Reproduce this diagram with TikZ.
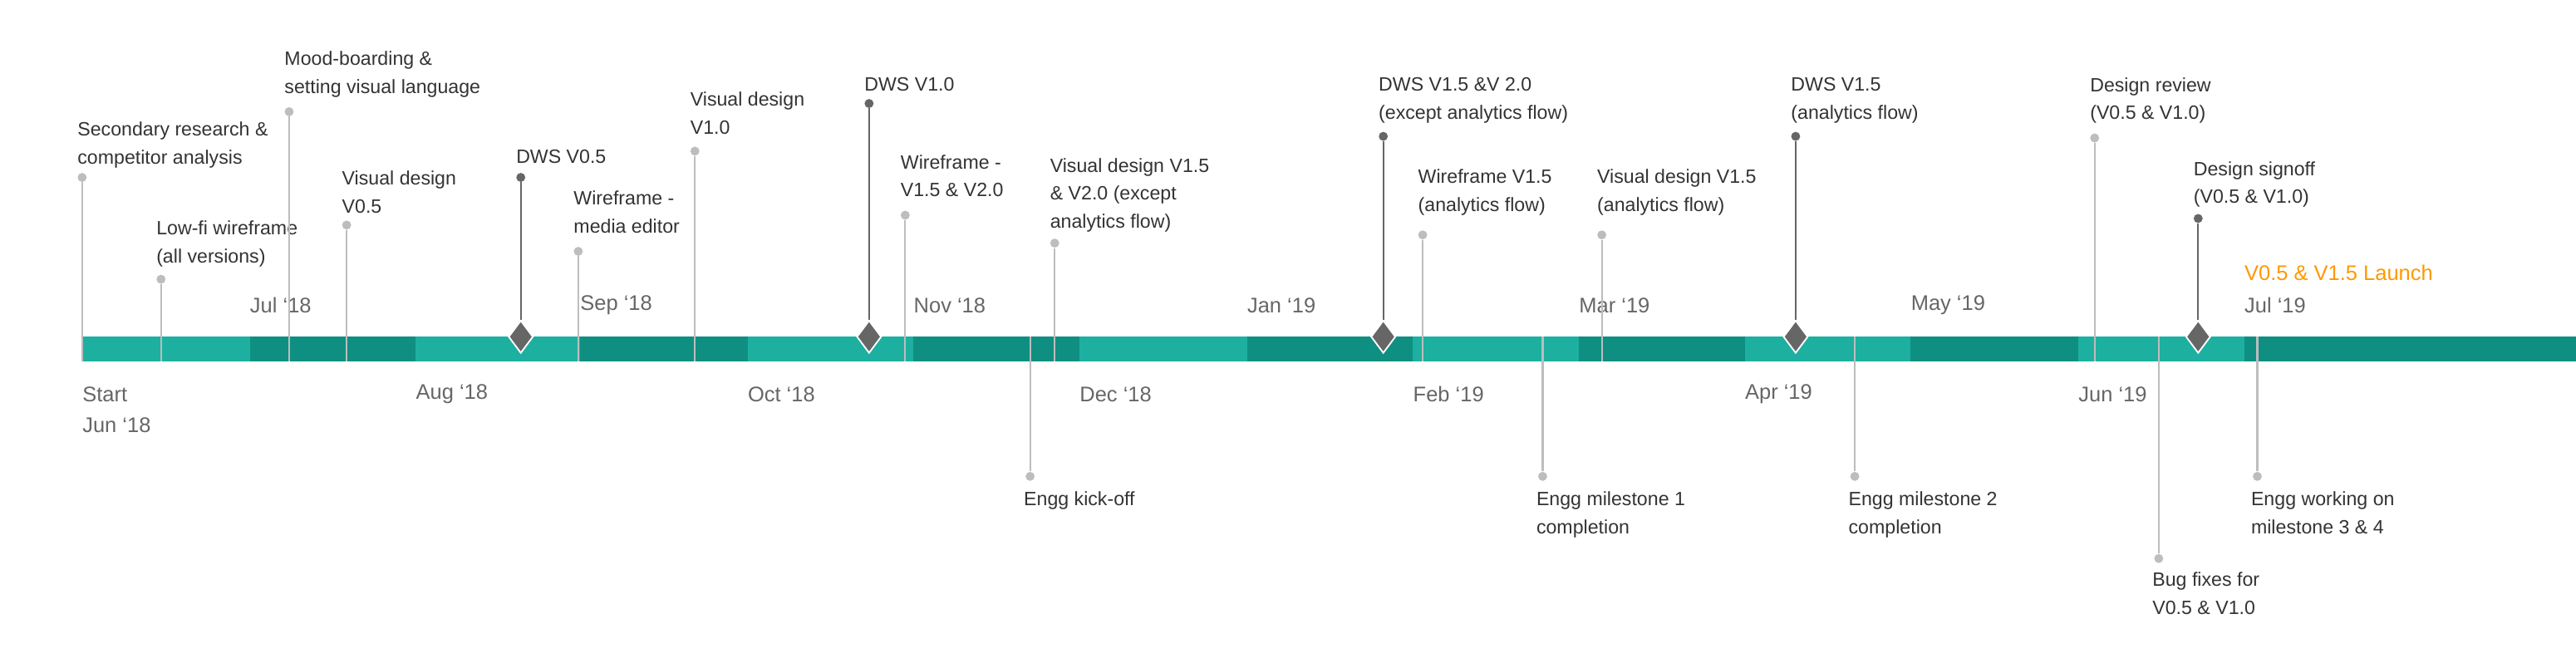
\documentclass[tikz,border=0pt]{standalone}
\usepackage{fontspec}
\setmainfont{Liberation Sans}
\usetikzlibrary{positioning,shapes.geometric}
\definecolor{barlight}{HTML}{1DB0A0}
\definecolor{bardark}{HTML}{0F8F82}
\definecolor{evtext}{HTML}{333333}
\definecolor{montext}{HTML}{666666}
\definecolor{lineg}{HTML}{BDBDBD}
\definecolor{linedk}{HTML}{666666}
\definecolor{launch}{HTML}{FF9800}
\tikzset{
  ev/.style={font=\fontsize{10}{14.6}\selectfont, text=evtext, anchor=north west, inner sep=0pt, align=left},
  mon/.style={font=\fontsize{11}{12}\selectfont, text=montext, anchor=west, inner sep=0pt},
  dotl/.style={circle, fill=lineg, inner sep=0pt, minimum size=5.5*0.03cm},
  dotd/.style={circle, fill=linedk, inner sep=0pt, minimum size=5.5*0.03cm},
  lite/.style={draw=lineg, line width=0.9pt},
  dark/.style={draw=linedk, line width=1pt},
}
\begin{document}
\begin{tikzpicture}[x=0.03cm, y=-0.03cm]
\useasboundingbox (0,0) rectangle (1568,406.6);
% bar
\foreach \xa/\xb/\col in {50/152/barlight, 152/253/bardark, 253/353/barlight, 353/455/bardark,
    455/556/barlight, 556/657/bardark, 657/759/barlight, 759/860/bardark, 860/961/barlight,
    961/1062/bardark, 1062/1163/barlight, 1163/1265/bardark, 1265/1366/barlight, 1366/1568/bardark}
  \fill[\col] (\xa,205) rectangle (\xb,220);
% months
\foreach \x/\m in {152/Jul ‘18, 353/Sep ‘18, 556/Nov ‘18, 759/Jan ‘19, 961/Mar ‘19, 1163/May ‘19, 1366/Jul ‘19}
  \node[mon] at (\x,186) {\m};
\foreach \x/\m in {50/Start, 253/Aug ‘18, 455/Oct ‘18, 657/Dec ‘18, 860/Feb ‘19, 1062/Apr ‘19, 1265/Jun ‘19}
  \node[mon] at (\x,240) {\m};
\node[mon] (jun18) at (50,259) {Jun ‘18};
\node[mon, text=launch] (launch) at (1366,166) {V0.5 \& V1.5 Launch};
% events above the bar
\foreach \nm/\x/\yd/\yt/\txt in {
    research/50/108/74/{Secondary research \&\\competitor analysis},
    lofi/98/170/134/{Low-fi wireframe\\(all versions)},
    mood/176/68/31/{Mood-boarding \&\\setting visual language},
    vdfive/211/137/104/{Visual design\\V0.5},
    wfmedia/352/153/116/{Wireframe -\\media editor},
    vdone/423/92/56/{Visual design\\V1.0},
    wfonefive/551/131/94/{Wireframe -\\V1.5 \& V2.0},
    vdonefive/642/148/96/{Visual design V1.5\\\& V2.0 (except\\analytics flow)},
    wfanalytics/866/143/103/{Wireframe V1.5\\(analytics flow)},
    vdanalytics/975/143/103/{Visual design V1.5\\(analytics flow)},
    review/1275/84/47/{Design review\\(V0.5 \& V1.0)}}{
  \node[dotl] (d\nm) at (\x,\yd) {};
  \coordinate (e\nm) at (\x,220);
  \draw[lite] (d\nm) -- (e\nm);
  \node[ev] (t\nm) at (\x-3,\yt) {\txt};
}
% milestones
\foreach \nm/\x/\yd/\yt/\txt in {
    dwsfive/317/108/91/{DWS V0.5},
    dwsone/529/63/47/{DWS V1.0},
    dwstwo/842/83/47/{DWS V1.5 \&V 2.0\\(except analytics flow)},
    dwsanalytics/1093/83/47/{DWS V1.5\\(analytics flow)},
    signoff/1338/133/98/{Design signoff\\(V0.5 \& V1.0)}}{
  \node[dotd] (d\nm) at (\x,\yd) {};
  \node[diamond, fill=linedk, draw=white, line width=0.8pt, inner sep=0pt,
        minimum width=15*0.03cm, minimum height=20*0.03cm] (m\nm) at (\x,205) {};
  \draw[dark] (d\nm) -- (m\nm.north);
  \node[ev] (t\nm) at (\x-3,\yt) {\txt};
}
% events below the bar
\foreach \nm/\x/\yd/\yt/\txt in {
    kickoff/627/290/299/{Engg kick-off},
    engone/939/290/299/{Engg milestone 1\\completion},
    engtwo/1129/290/299/{Engg milestone 2\\completion},
    bugfix/1314/340/348/{Bug fixes for\\V0.5 \& V1.0},
    engthree/1374/290/299/{Engg working on\\milestone 3 \& 4}}{
  \node[dotl] (d\nm) at (\x,\yd) {};
  \coordinate (e\nm) at (\x,205);
  \draw[lite] (e\nm) -- (d\nm);
  \node[ev] (t\nm) at (\x-4,\yt) {\txt};
}
\end{tikzpicture}
\end{document}
